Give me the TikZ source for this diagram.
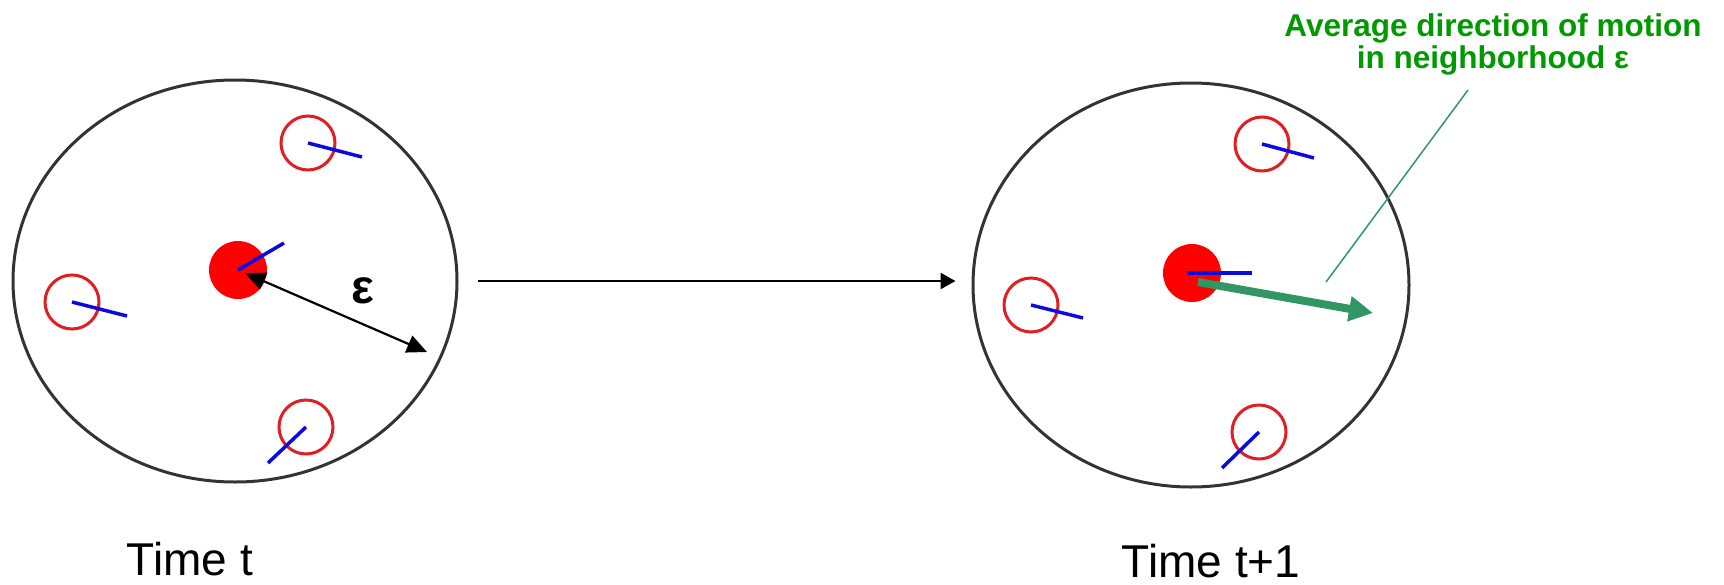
\documentclass[tikz,border=0pt]{standalone}
\usepackage{fontspec}
\setmainfont{Liberation Sans}
\usepackage{xcolor}
\usetikzlibrary{shapes.geometric,arrows.meta,positioning,calc}

\definecolor{ringred}{RGB}{225,30,35}
\definecolor{headblue}{RGB}{10,10,225}
\definecolor{avggreen}{RGB}{50,150,100}
\definecolor{labelgreen}{RGB}{0,153,0}

\begin{document}
\begin{tikzpicture}[
    x=1pt, y=-1pt,
    nbr/.style={ellipse, draw=black!80, line width=3pt, inner sep=0pt},
    agent/.style={circle, draw=ringred, line width=3pt, minimum size=54pt, inner sep=0pt},
    focal/.style={circle, fill=red, minimum size=58pt, inner sep=0pt},
    heading/.style={headblue, line width=3.5pt},
    flow/.style={-{Triangle[length=15pt, width=16pt]}, line width=2.5pt},
    radius/.style={{Triangle[length=20pt, width=18pt]}-{Triangle[length=20pt, width=18pt]}, line width=2.2pt},
    avgarrow/.style={-{Triangle[length=24pt, width=24pt]}, avggreen, line width=8pt},
    leader/.style={avggreen, line width=1.5pt},
    timelabel/.style={font=\fontsize{46}{50}\selectfont, anchor=base, inner sep=0pt},
  ]
    \useasboundingbox (0,0) rectangle (1724,584);

    % time t
    \node[nbr, minimum width=444pt, minimum height=402pt] (nbrL) at (235,281) {};
    \node[focal] (dotL) at (238,270) {};
    \node[agent] (aL1) at (308,143) {};
    \node[agent] (aL2) at (72,302) {};
    \node[agent] (aL3) at (306,427) {};
    \draw[heading] (dotL.center) -- ++(46,-27);
    \draw[heading] (aL1.center) -- ++(54,14);
    \draw[heading] (aL2.center) -- ++(55,14);
    \draw[heading] (aL3.center) -- ++(-38,36);

    \coordinate (rimL) at (427,352);
    \draw[radius] ($(dotL.center)!8pt!(rimL)$) -- (rimL);
    \node[font=\fontsize{48}{50}\selectfont\bfseries] (eps) at (363,291) {ε};

    % time t+1
    \node[nbr, minimum width=436pt, minimum height=404pt] (nbrR) at (1191,285) {};
    \node[focal] (dotR) at (1192,273) {};
    \node[agent] (aR1) at (1262,144) {};
    \node[agent] (aR2) at (1031,305) {};
    \node[agent] (aR3) at (1259,432) {};
    \draw[heading] (aR1.center) -- ++(52,14);
    \draw[heading] (aR2.center) -- ++(52,13);
    \draw[heading] (aR3.center) -- ++(-37,36);
    \draw[heading, line width=4pt] ([xshift=-5pt]dotR.center) -- ++(65,0);

    \coordinate (avg) at (1373,313);
    \draw[avgarrow] ([shift={(6,9)}]dotR.center) -- (avg);

    % transition
    \draw[flow] ([xshift=19pt]nbrL.east) -- ([xshift=-16pt]nbrR.west |- nbrL.east);

    % labels
    \node[timelabel] (tL) at (190,575) {Time t};
    \node[timelabel] (tR) at (1211,577) {Time t+1};
    \node[labelgreen, font=\fontsize{31.5}{32}\selectfont\bfseries, align=center,
          anchor=north, inner sep=0pt] (avgtext) at (1493,13)
          {Average direction of motion\\in neighborhood ε};
    \coordinate (pointer) at (1326,282);
    \draw[leader] (1468,90) -- (pointer);
  \end{tikzpicture}
\end{document}
